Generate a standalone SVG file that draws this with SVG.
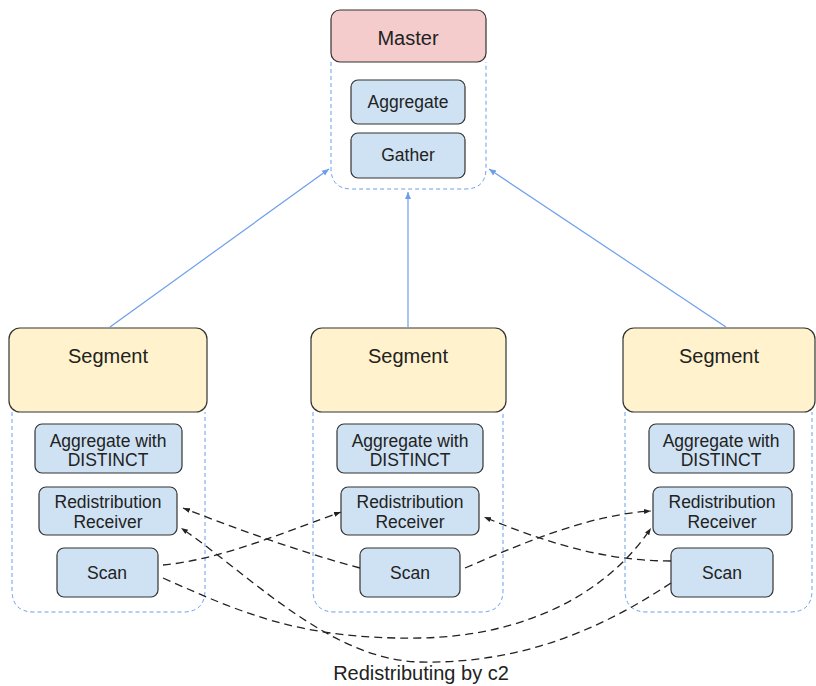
<svg xmlns="http://www.w3.org/2000/svg" width="816" height="686" viewBox="0 0 816 686">
<style>
text{font-family:"Liberation Sans",Arial,sans-serif;fill:#222;text-anchor:middle}
.big{font-size:20px}
.mid{font-size:17.5px}
.master{fill:#f4cccc;stroke:#333;stroke-width:1.2}
.seg{fill:#fff2cc;stroke:#333;stroke-width:1.2}
.op{fill:#cfe2f3;stroke:#333;stroke-width:1.2}
.cont{fill:none;stroke:#6d9eeb;stroke-width:1;stroke-dasharray:4,3}
.up{fill:none;stroke:#6d9eeb;stroke-width:1.2;marker-end:url(#ba)}
.re{fill:none;stroke:#222;stroke-width:1.3;stroke-dasharray:8,5;marker-end:url(#ka)}
</style>
<defs>
<marker id="ba" markerWidth="8" markerHeight="8" refX="7" refY="4" orient="auto" markerUnits="userSpaceOnUse"><path d="M0,1 L7,4 L0,7 z" fill="#6d9eeb"/></marker>
<marker id="ka" markerWidth="8" markerHeight="8" refX="7" refY="4" orient="auto" markerUnits="userSpaceOnUse"><path d="M0,1.5 L7,4 L0,6.5 z" fill="#222"/></marker>
</defs>
<rect width="816" height="686" fill="#fff"/>

<g id="master">
<path class="cont" d="M331,62 V168 Q331,189 352,189 H465 Q486,189 486,168 V62"/>
<rect class="master" x="331" y="10" width="155" height="52" rx="9"/>
<text class="big" x="408" y="45">Master</text>
<rect class="op" x="351" y="80" width="114" height="44" rx="7"/>
<text class="mid" x="408" y="108">Aggregate</text>
<rect class="op" x="351" y="133" width="114" height="45" rx="7"/>
<text class="mid" x="408" y="161">Gather</text>
</g>

<g id="segment1">
<path class="cont" d="M12,412 V590 Q12,612 34,612 H183 Q205,612 205,590 V412"/>
<rect class="seg" x="9" y="328" width="198" height="84" rx="11"/>
<text class="big" x="108" y="363">Segment</text>
<rect class="op" x="35" y="424" width="147" height="49" rx="7"/>
<text class="mid" x="108" y="447">Aggregate with</text>
<text class="mid" x="108" y="466">DISTINCT</text>
<rect class="op" x="39" y="487" width="138" height="48" rx="7"/>
<text class="mid" x="108" y="508">Redistribution</text>
<text class="mid" x="108" y="528">Receiver</text>
<rect class="op" x="57" y="548" width="101" height="49" rx="7"/>
<text class="mid" x="107" y="579">Scan</text>
</g>

<g id="segment2">
<path class="cont" d="M313,412 V590 Q313,612 335,612 H481 Q503,612 503,590 V412"/>
<rect class="seg" x="311" y="328" width="195" height="84" rx="11"/>
<text class="big" x="408" y="363">Segment</text>
<rect class="op" x="337" y="424" width="146" height="49" rx="7"/>
<text class="mid" x="410" y="447">Aggregate with</text>
<text class="mid" x="410" y="466">DISTINCT</text>
<rect class="op" x="341" y="487" width="138" height="48" rx="7"/>
<text class="mid" x="410" y="508">Redistribution</text>
<text class="mid" x="410" y="528">Receiver</text>
<rect class="op" x="360" y="548" width="100" height="49" rx="7"/>
<text class="mid" x="410" y="579">Scan</text>
</g>

<g id="segment3">
<path class="cont" d="M625,412 V590 Q625,612 647,612 H790 Q812,612 812,590 V412"/>
<rect class="seg" x="623" y="328" width="192" height="84" rx="11"/>
<text class="big" x="719" y="363">Segment</text>
<rect class="op" x="649" y="424" width="145" height="49" rx="7"/>
<text class="mid" x="721" y="447">Aggregate with</text>
<text class="mid" x="721" y="466">DISTINCT</text>
<rect class="op" x="653" y="487" width="139" height="48" rx="7"/>
<text class="mid" x="722" y="508">Redistribution</text>
<text class="mid" x="722" y="528">Receiver</text>
<rect class="op" x="671" y="548" width="102" height="49" rx="7"/>
<text class="mid" x="722" y="579">Scan</text>
</g>

<g id="connectors">
<line class="up" x1="110" y1="327" x2="329" y2="169"/>
<line class="up" x1="408" y1="327" x2="408" y2="192"/>
<line class="up" x1="726" y1="327" x2="489" y2="169"/>
<path class="re" d="M360,568 C300,552 240,530 183,508"/>
<path class="re" d="M163,565 C220,560 290,530 341,512"/>
<path class="re" d="M671,583 C600,630 520,664 420,662 C330,660 250,575 181,528"/>
<path class="re" d="M163,578 C240,612 300,640 420,638 C530,636 610,590 651,528"/>
<path class="re" d="M465,568 C530,540 590,515 651,511"/>
<path class="re" d="M671,561 C600,561 540,540 484,517"/>
</g>

<text class="big" x="421" y="680">Redistributing by c2</text>
</svg>
